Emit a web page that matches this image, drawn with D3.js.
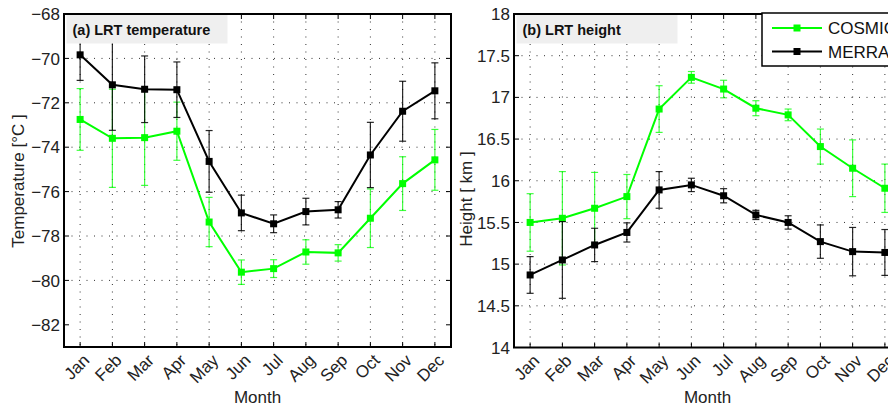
<!DOCTYPE html>
<html>
<head>
<meta charset="utf-8">
<script src="https://cdn.jsdelivr.net/npm/d3@7/dist/d3.min.js"></script>
<style>
  html, body { margin: 0; padding: 0; background: #fff; }
  svg { display: block; font-family: "Liberation Sans", Arial, Helvetica, sans-serif; }
</style>
</head>
<body>
<svg id="chart" width="888" height="409"></svg>
<script>
// Monthly lapse-rate tropopause (LRT) climatology: COSMIC vs MERRA
const months = ["Jan","Feb","Mar","Apr","May","Jun","Jul","Aug","Sep","Oct","Nov","Dec"];

// (a) LRT temperature [°C], mean and ± spread
const tempCosmic    = [-72.75,-73.6,-73.57,-73.28,-77.37,-79.63,-79.47,-78.72,-78.76,-77.2,-75.64,-74.57];
const tempCosmicErr = [1.39,2.21,2.15,1.31,1.11,0.55,0.4,0.55,0.37,1.32,1.21,1.37];
const tempMerra     = [-69.84,-71.19,-71.39,-71.41,-74.64,-76.96,-77.45,-76.9,-76.82,-74.35,-72.38,-71.46];
const tempMerraErr  = [1.15,2.05,1.5,1.25,1.39,0.8,0.4,0.6,0.37,1.47,1.35,1.26];

// (b) LRT height [km], mean and ± spread
const hgtCosmic     = [15.5,15.55,15.67,15.81,16.86,17.24,17.1,16.87,16.79,16.41,16.15,15.91];
const hgtCosmicErr  = [0.345,0.56,0.43,0.265,0.28,0.07,0.105,0.09,0.07,0.21,0.34,0.29];
const hgtMerra      = [14.87,15.05,15.23,15.38,15.89,15.95,15.82,15.59,15.5,15.27,15.15,15.14];
const hgtMerraErr   = [0.22,0.46,0.2,0.115,0.22,0.08,0.085,0.055,0.08,0.2,0.29,0.275];

const tempTicks = [-82,-80,-78,-76,-74,-72,-70,-68];
const hgtTicks  = [14,14.5,15,15.5,16,16.5,17,17.5,18];

const seriesNames = ["COSMIC","MERRA"];
const seriesColors = ["#00ff00","#000000"];

const svg = d3.select("#chart");
const fmtMinus = v => String(v).replace("-", "\u2212");

function panel(opts) {
  const {x0, x1, y0, y1, domain, ticks, series, title, ylabel, ylabelX, ylabelY} = opts;
  const g = svg.append("g");
  const x = d3.scaleLinear().domain([0.5, 12.5]).range([x0, x1]);
  const y = d3.scaleLinear().domain(domain).range([y1, y0]);

  // dotted grid
  g.append("g").selectAll("line").data(ticks.slice(1, -1)).join("line")
    .attr("x1", x0).attr("x2", x1).attr("y1", d => y(d)).attr("y2", d => y(d))
    .attr("stroke", "#333").attr("stroke-width", 1).attr("stroke-dasharray", "1,6.5");
  g.append("g").selectAll("line").data(d3.range(1, 13)).join("line")
    .attr("x1", d => x(d)).attr("x2", d => x(d)).attr("y1", y0).attr("y2", y1)
    .attr("stroke", "#333").attr("stroke-width", 1).attr("stroke-dasharray", "1,6.5");

  // error bars, lines and square markers
  series.forEach((s, i) => {
    const col = seriesColors[i];
    const eb = g.append("g").attr("stroke", col).attr("stroke-width", 1.2)
      .attr("stroke-opacity", i === 0 ? 0.75 : 0.85);
    s.mean.forEach((m, k) => {
      const cx = x(k + 1), lo = y(m - s.err[k]), hi = y(m + s.err[k]);
      eb.append("line").attr("x1", cx).attr("x2", cx).attr("y1", lo).attr("y2", hi);
      eb.append("line").attr("x1", cx - 3.5).attr("x2", cx + 3.5).attr("y1", lo).attr("y2", lo);
      eb.append("line").attr("x1", cx - 3.5).attr("x2", cx + 3.5).attr("y1", hi).attr("y2", hi);
    });
    g.append("path").datum(s.mean)
      .attr("d", d3.line().x((d, k) => x(k + 1)).y(d => y(d)))
      .attr("fill", "none").attr("stroke", col).attr("stroke-width", 2);
    g.append("g").selectAll("rect").data(s.mean).join("rect")
      .attr("x", (d, k) => x(k + 1) - 3.5).attr("y", d => y(d) - 3.5)
      .attr("width", 7).attr("height", 7).attr("fill", col);
  });

  // axes (ticks inward, mirrored on top/right)
  const tl = 5;
  const ax = g.append("g").attr("stroke", "#000");
  ticks.forEach(t => {
    ax.append("line").attr("x1", x0).attr("x2", x0 + tl).attr("y1", y(t)).attr("y2", y(t));
    ax.append("line").attr("x1", x1).attr("x2", x1 - tl).attr("y1", y(t)).attr("y2", y(t));
  });
  d3.range(1, 13).forEach(m => {
    ax.append("line").attr("x1", x(m)).attr("x2", x(m)).attr("y1", y1).attr("y2", y1 - tl);
    ax.append("line").attr("x1", x(m)).attr("x2", x(m)).attr("y1", y0).attr("y2", y0 + tl);
  });
  g.append("rect").attr("x", x0).attr("y", y0).attr("width", x1 - x0).attr("height", y1 - y0)
    .attr("fill", "none").attr("stroke", "#000").attr("stroke-width", 2);

  // y tick labels
  g.append("g").selectAll("text").data(ticks).join("text")
    .attr("x", x0 - 4).attr("y", d => y(d)).attr("dy", "0.36em")
    .attr("text-anchor", "end").attr("font-size", 17).attr("fill", "#222")
    .text(d => fmtMinus(d));

  // rotated month labels
  g.append("g").selectAll("text").data(months).join("text")
    .attr("transform", (d, k) => `translate(${x(k + 1) + 2},${y1 + 6}) rotate(-45)`)
    .attr("text-anchor", "end").attr("dy", "0.7em")
    .attr("font-size", 17).attr("fill", "#222").text(d => d);

  g.append("text").attr("x", (x0 + x1) / 2).attr("y", 403)
    .attr("text-anchor", "middle").attr("font-size", 17).attr("fill", "#222").text("Month");

  g.append("text").attr("transform", `translate(${ylabelX},${ylabelY}) rotate(-90)`)
    .attr("text-anchor", "middle").attr("dy", "0.35em")
    .attr("font-size", 17).attr("fill", "#222").text(ylabel);

  // panel title box
  g.append("rect").attr("x", x0 + 2.5).attr("y", y0 + 1).attr("width", 161).attr("height", 28.5)
    .attr("fill", "#efefef");
  g.append("text").attr("x", x0 + 8.5).attr("y", y0 + 20.5)
    .attr("font-size", 14.5).attr("font-weight", "bold").attr("fill", "#111").text(title);

  return {g, x, y};
}

panel({
  x0: 64, x1: 451, y0: 14, y1: 347, domain: [-83, -68], ticks: tempTicks,
  series: [{mean: tempCosmic, err: tempCosmicErr}, {mean: tempMerra, err: tempMerraErr}],
  title: "(a) LRT temperature", ylabel: "Temperature [°C ]", ylabelX: 18, ylabelY: 181
});

panel({
  x0: 514, x1: 901, y0: 14, y1: 347.5, domain: [14, 18], ticks: hgtTicks,
  series: [{mean: hgtCosmic, err: hgtCosmicErr}, {mean: hgtMerra, err: hgtMerraErr}],
  title: "(b) LRT height", ylabel: "Height [ km ]", ylabelX: 466, ylabelY: 199
});

// legend
const lg = svg.append("g");
lg.append("rect").attr("x", 762).attr("y", 13).attr("width", 150).attr("height", 53)
  .attr("fill", "#fff").attr("stroke", "#000").attr("stroke-width", 1.5);
seriesNames.forEach((name, i) => {
  const ly = 28 + i * 23.5;
  lg.append("line").attr("x1", 772).attr("x2", 822).attr("y1", ly).attr("y2", ly)
    .attr("stroke", seriesColors[i]).attr("stroke-width", 2);
  lg.append("rect").attr("x", 797 - 3.5).attr("y", ly - 3.5).attr("width", 7).attr("height", 7)
    .attr("fill", seriesColors[i]);
  lg.append("text").attr("x", 828).attr("y", ly).attr("dy", "0.36em")
    .attr("font-size", 17).attr("fill", "#111").text(name);
});
</script>
</body>
</html>
